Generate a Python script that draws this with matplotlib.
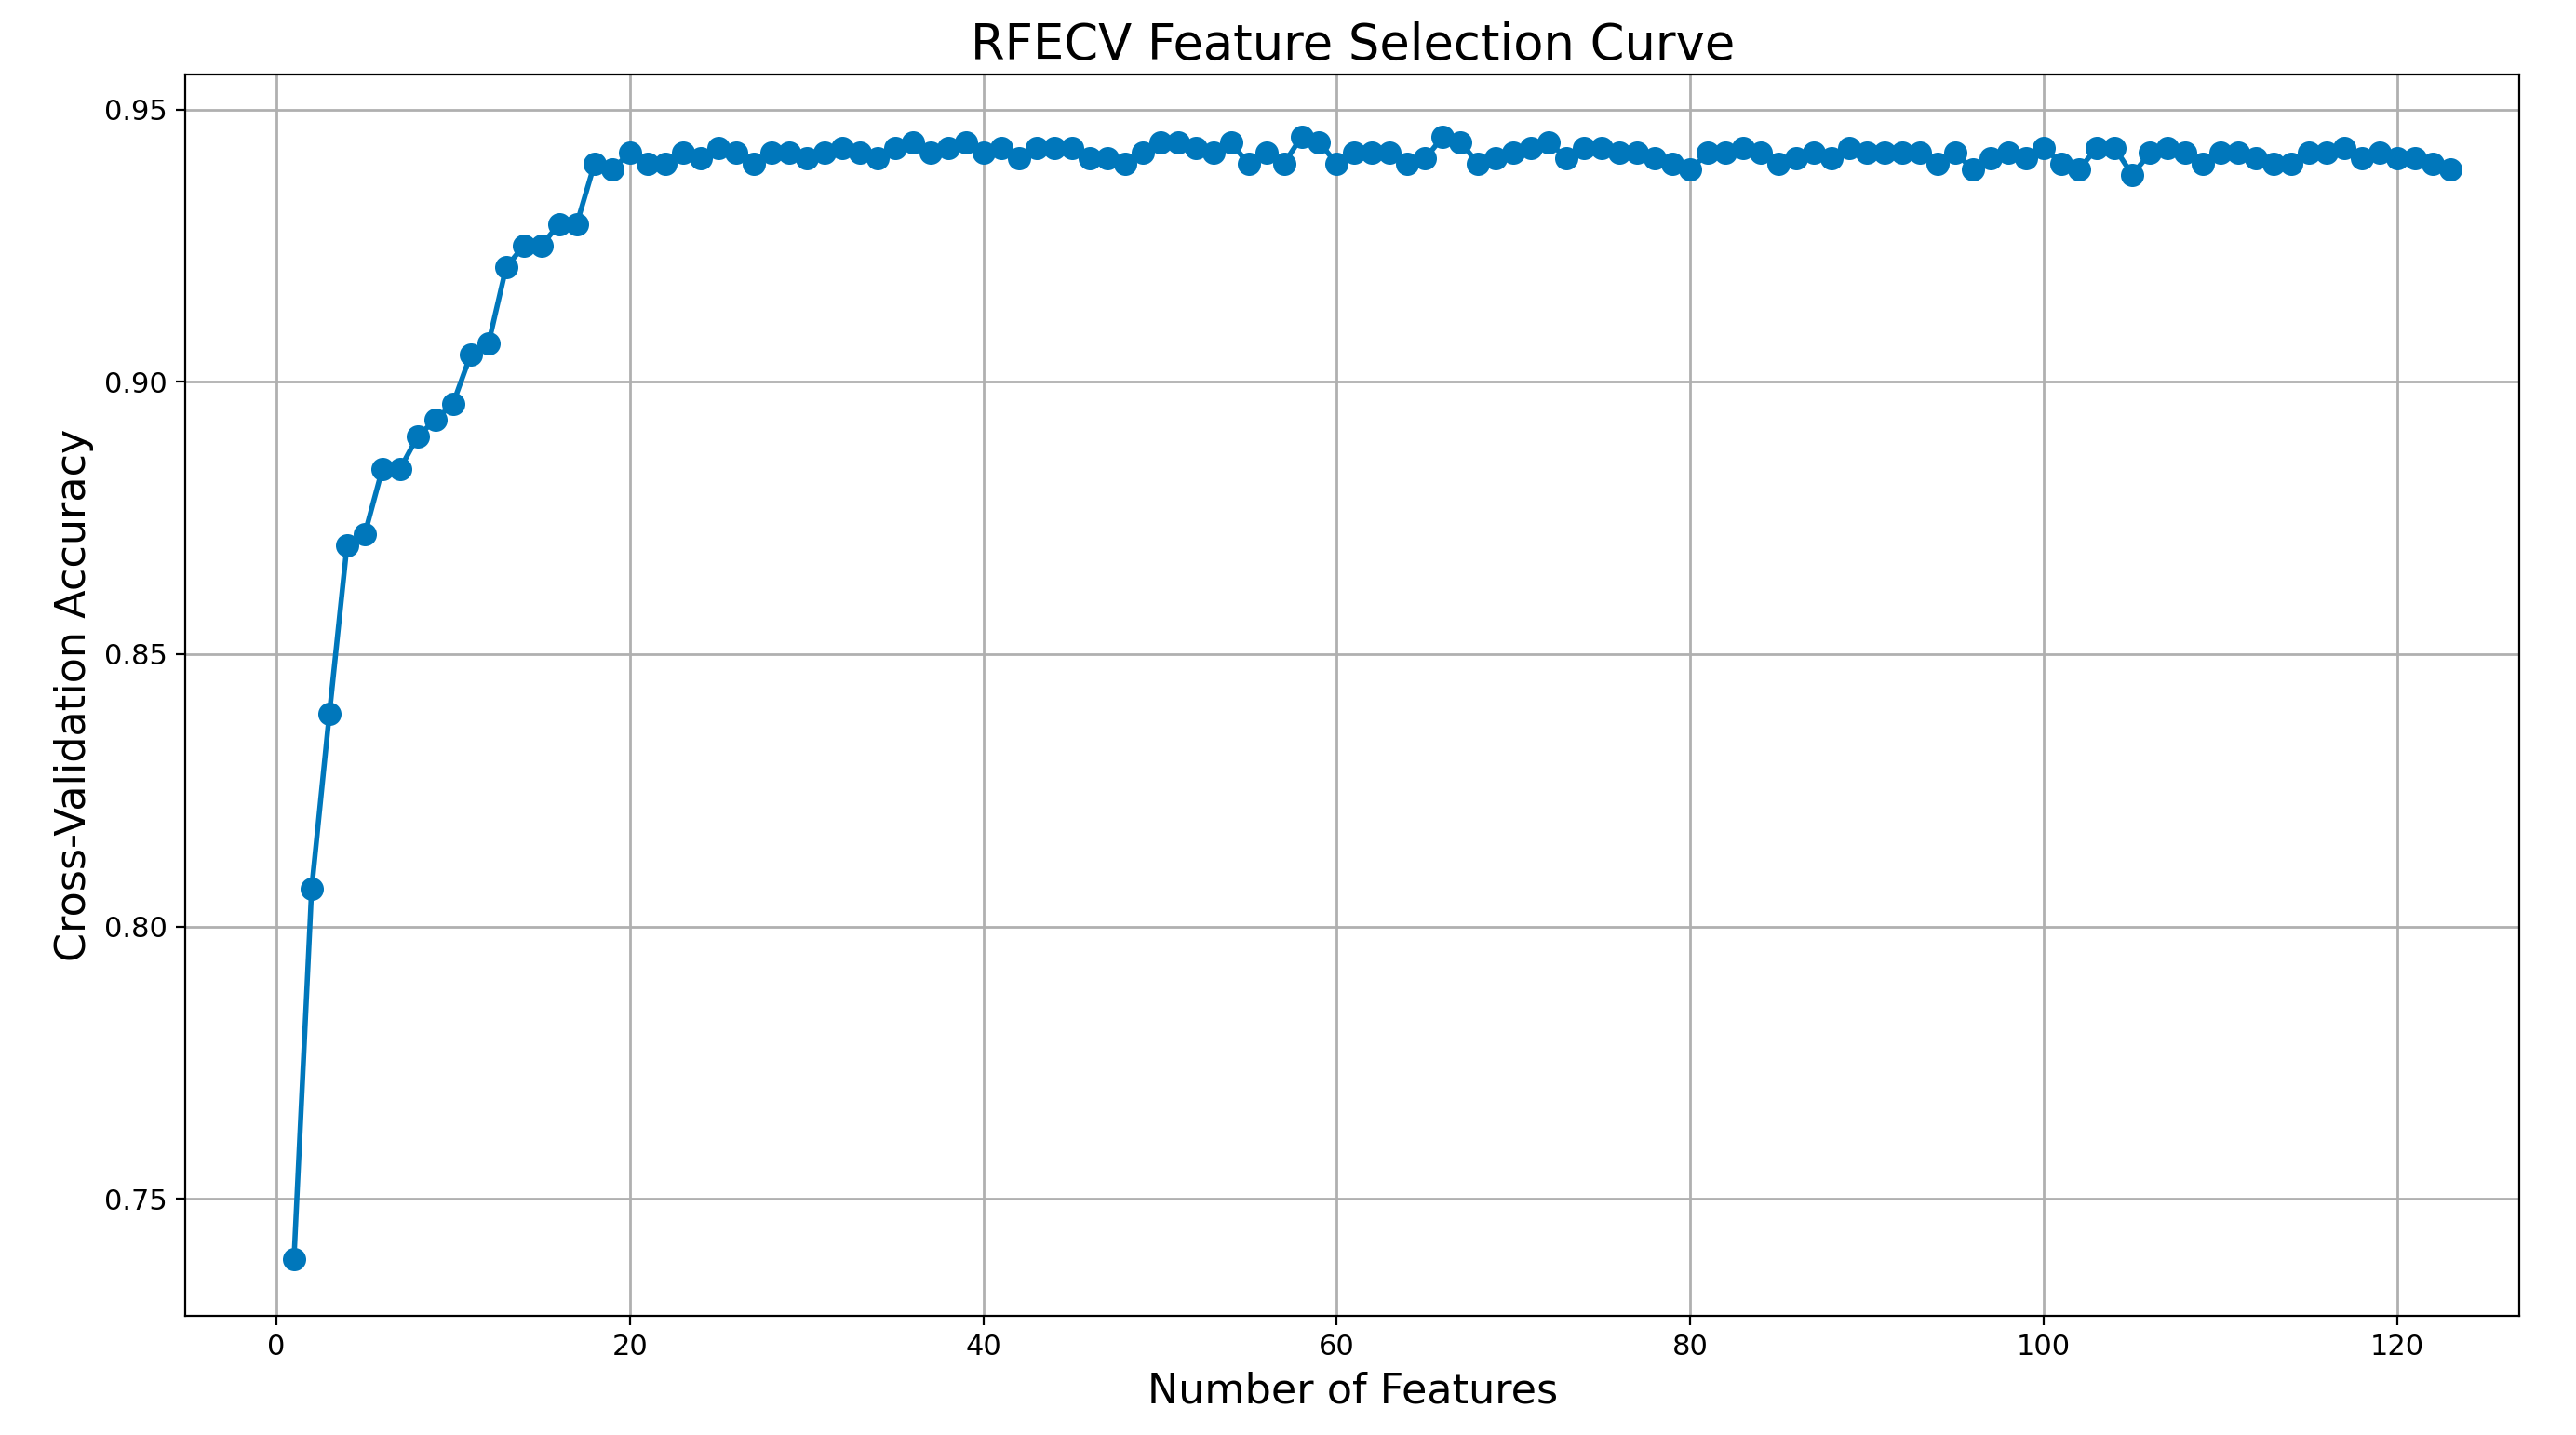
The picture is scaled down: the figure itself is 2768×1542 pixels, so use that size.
import matplotlib
matplotlib.use("Agg")
import matplotlib.pyplot as plt
import numpy as np

n_features = list(range(1, 124))
cv_accuracy = [
0.739,0.807,0.839,0.870,0.872,0.884,0.884,0.890,0.893,0.896,
0.905,0.907,0.921,0.925,0.925,0.929,0.929,0.940,0.939,0.942,
0.940,0.940,0.942,0.941,0.943,0.942,0.940,0.942,0.942,0.941,
0.942,0.943,0.942,0.941,0.943,0.944,0.942,0.943,0.944,0.942,
0.943,0.941,0.943,0.943,0.943,0.941,0.941,0.940,0.942,0.944,
0.944,0.943,0.942,0.944,0.940,0.942,0.940,0.945,0.944,0.940,
0.942,0.942,0.942,0.940,0.941,0.945,0.944,0.940,0.941,0.942,
0.943,0.944,0.941,0.943,0.943,0.942,0.942,0.941,0.940,0.939,
0.942,0.942,0.943,0.942,0.940,0.941,0.942,0.941,0.943,0.942,
0.942,0.942,0.942,0.940,0.942,0.939,0.941,0.942,0.941,0.943,
0.940,0.939,0.943,0.943,0.938,0.942,0.943,0.942,0.940,0.942,
0.942,0.941,0.940,0.940,0.942,0.942,0.943,0.941,0.942,0.941,
0.941,0.940,0.939]

fig = plt.figure(figsize=(13.84, 7.71), dpi=200)
ax = fig.add_axes([0.072, 0.083, 0.906, 0.865])
ax.plot(n_features, cv_accuracy, marker='o', color='#0077BB', linewidth=2, markersize=8)
ax.set_xlim(-5.14, 126.9)
ax.set_ylim(0.7285, 0.9564)
ax.set_yticks([0.75, 0.80, 0.85, 0.90, 0.95])
ax.grid(True, color='#b0b0b0', linewidth=1)
ax.tick_params(labelsize=11)
ax.set_title("RFECV Feature Selection Curve", fontsize=19)
ax.set_xlabel("Number of Features", fontsize=16)
ax.set_ylabel("Cross-Validation Accuracy", fontsize=16)
fig.savefig("out.png", dpi=200)
